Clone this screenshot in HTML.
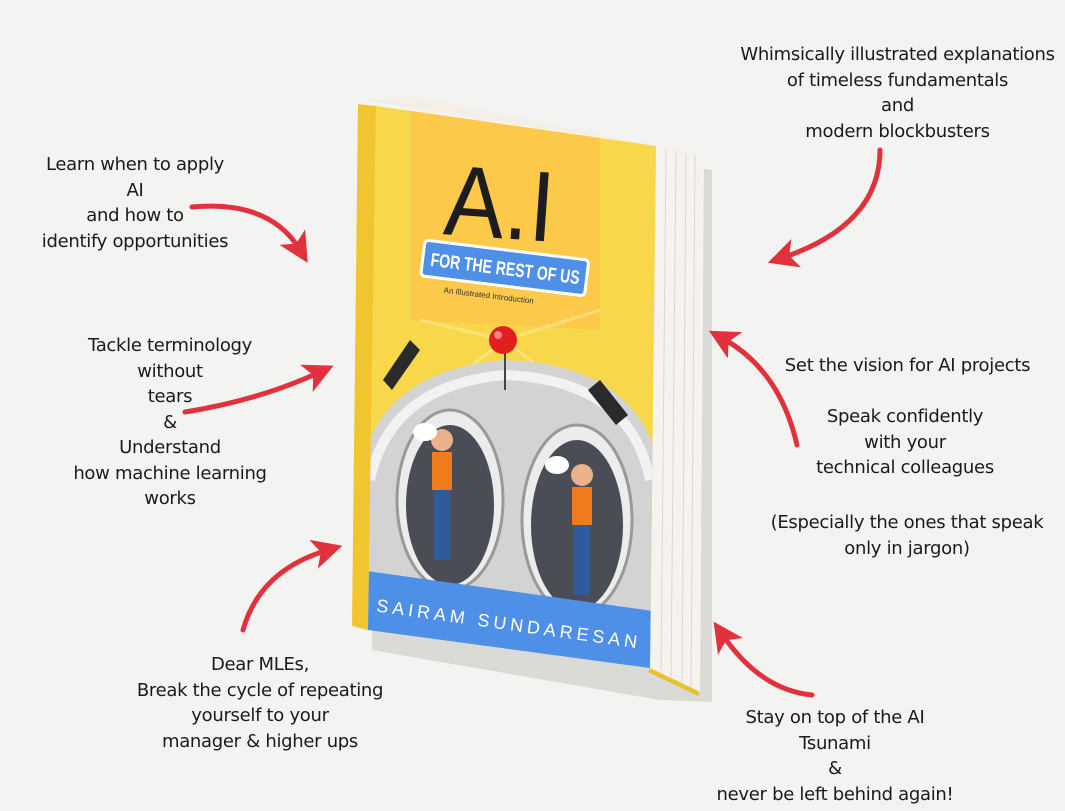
<!DOCTYPE html>
<html><head><meta charset="utf-8"><style>
html,body{margin:0;padding:0;width:1065px;height:811px;overflow:hidden;background:#f3f3f1;}
svg{position:absolute;left:0;top:0}
.t{position:absolute;font-family:"DejaVu Sans","Liberation Sans",sans-serif;font-size:18px;color:#1a1a1a;text-align:center;line-height:25.5px;letter-spacing:-0.3px}
</style></head><body>
<svg width="1065" height="811" viewBox="0 0 1065 811">
<defs>
<marker id="ah" markerWidth="6" markerHeight="6" refX="3" refY="3" orient="auto" markerUnits="strokeWidth">
<path d="M0,0 L6,3 L0,6 L1.5,3 z" fill="#e0313d"/></marker>
<clipPath id="cov"><polygon points="376,106 656,146 650,668 368,630"/></clipPath>
</defs>
<polygon points="372,112 712,170 712,702 660,700 372,650" fill="#cfcfcc" opacity="0.7"/>
<polygon points="362,100 410,96 704,156 656,146" fill="#f4efe6"/>
<polygon points="656,146 704,156 700,692 650,668" fill="#f6f3ee"/>
<g stroke="#ddd6cc" stroke-width="1">
<line x1="666" y1="149" x2="661" y2="674"/><line x1="676" y1="151" x2="671" y2="679"/><line x1="686" y1="153" x2="682" y2="684"/><line x1="695" y1="155" x2="691" y2="688"/></g>
<polygon points="650,668 700,692 698,696 648,672" fill="#e8c22a"/>
<polygon points="358,104 376,106 368,630 352,626" fill="#f1c530"/>
<g clip-path="url(#cov)">
<rect x="360" y="100" width="300" height="580" fill="#f8d84a"/>
<polygon points="410,100 600,120 600,330 410,320" fill="#fcc94a"/>
<g stroke="#fde98e" stroke-width="3" opacity="0.7">
<line x1="505" y1="340" x2="420" y2="320"/><line x1="505" y1="340" x2="600" y2="310"/><line x1="505" y1="340" x2="440" y2="390"/><line x1="505" y1="340" x2="580" y2="400"/></g>
<path d="M360,470 Q380,370 505,360 Q640,365 660,470 L660,680 L360,680 z" fill="#d3d3d3"/>
<path d="M370,480 Q390,385 505,375 Q630,380 650,480" fill="none" stroke="#f2f2f2" stroke-width="10"/>
<polygon points="383,380 410,340 420,350 392,390" fill="#2a2a2a"/>
<polygon points="588,390 600,380 628,415 616,425" fill="#2a2a2a"/>
<ellipse cx="450" cy="500" rx="53" ry="90" fill="#ececec" stroke="#999" stroke-width="3"/>
<ellipse cx="450" cy="505" rx="44" ry="80" fill="#4a4d55"/>
<ellipse cx="577" cy="520" rx="55" ry="95" fill="#ececec" stroke="#999" stroke-width="3"/>
<ellipse cx="577" cy="525" rx="46" ry="85" fill="#4a4d55"/>
<g><circle cx="442" cy="440" r="11" fill="#e9b28a"/><rect x="432" y="452" width="20" height="38" fill="#f07c1d"/><rect x="434" y="490" width="16" height="70" fill="#2e5a9e"/></g>
<g><circle cx="582" cy="475" r="11" fill="#e9b28a"/><rect x="572" y="487" width="20" height="38" fill="#f07c1d"/><rect x="574" y="525" width="16" height="70" fill="#2e5a9e"/></g>
<ellipse cx="425" cy="432" rx="12" ry="9" fill="#fff"/><ellipse cx="557" cy="465" rx="12" ry="9" fill="#fff"/>
<polygon points="360,570 660,612 660,680 360,640" fill="#4e8fe8"/>
<text x="508" y="630" transform="rotate(8 508 630)" font-family="Liberation Sans,sans-serif" font-size="18" fill="#fff" text-anchor="middle" letter-spacing="4">SAIRAM SUNDARESAN</text>
<text x="445" y="238" font-family="Liberation Sans,sans-serif" font-size="100" fill="#1d1d1d" textLength="110" lengthAdjust="spacingAndGlyphs" transform="rotate(4 500 200)">A.I</text>
<g transform="rotate(7 505 270)">
<rect x="422" y="250" width="165" height="36" rx="4" fill="#4e8fe8" stroke="#fff" stroke-width="3"/>
<text x="430" y="275" font-family="Liberation Sans,sans-serif" font-size="19" font-weight="bold" fill="#fff" textLength="150" lengthAdjust="spacingAndGlyphs">FOR THE REST OF US</text>
<text x="492" y="300" font-family="Liberation Sans,sans-serif" font-size="8" fill="#333" text-anchor="middle">An Illustrated Introduction</text>
</g>
<line x1="505" y1="350" x2="505" y2="390" stroke="#444" stroke-width="2"/>
<circle cx="503" cy="340" r="14" fill="#e02020"/><circle cx="498" cy="335" r="4" fill="#ff8080"/>
</g>
<g fill="none" stroke="#e0313d" stroke-width="5" stroke-linecap="round" marker-end="url(#ah)">
<path d="M192,207 Q270,200 300,250"/>
<path d="M185,412 Q260,400 320,372"/>
<path d="M243,630 Q260,570 328,550"/>
<path d="M880,150 Q880,225 782,258"/>
<path d="M797,445 Q780,370 722,338"/>
<path d="M812,695 Q760,690 722,634"/>
</g>
</svg>
<div class="t" style="left:20px;top:152px;width:230px">Learn when to apply<br>AI<br>and how to<br>identify opportunities</div>
<div class="t" style="left:60px;top:333px;width:220px">Tackle terminology<br>without<br>tears<br>&amp;<br>Understand<br>how machine learning<br>works</div>
<div class="t" style="left:110px;top:652px;width:300px">Dear MLEs,<br>Break the cycle of repeating<br>yourself to your<br>manager &amp; higher ups</div>
<div class="t" style="left:730px;top:42px;width:335px">Whimsically illustrated explanations<br>of timeless fundamentals<br>and<br>modern blockbusters</div>
<div class="t" style="left:760px;top:353px;width:295px">Set the vision for AI projects</div>
<div class="t" style="left:775px;top:404px;width:260px">Speak confidently<br>with your<br>technical colleagues</div>
<div class="t" style="left:752px;top:510px;width:310px">(Especially the ones that speak<br>only in jargon)</div>
<div class="t" style="left:690px;top:705px;width:290px">Stay on top of the AI<br>Tsunami<br>&amp;<br>never be left behind again!</div>
</body></html>
